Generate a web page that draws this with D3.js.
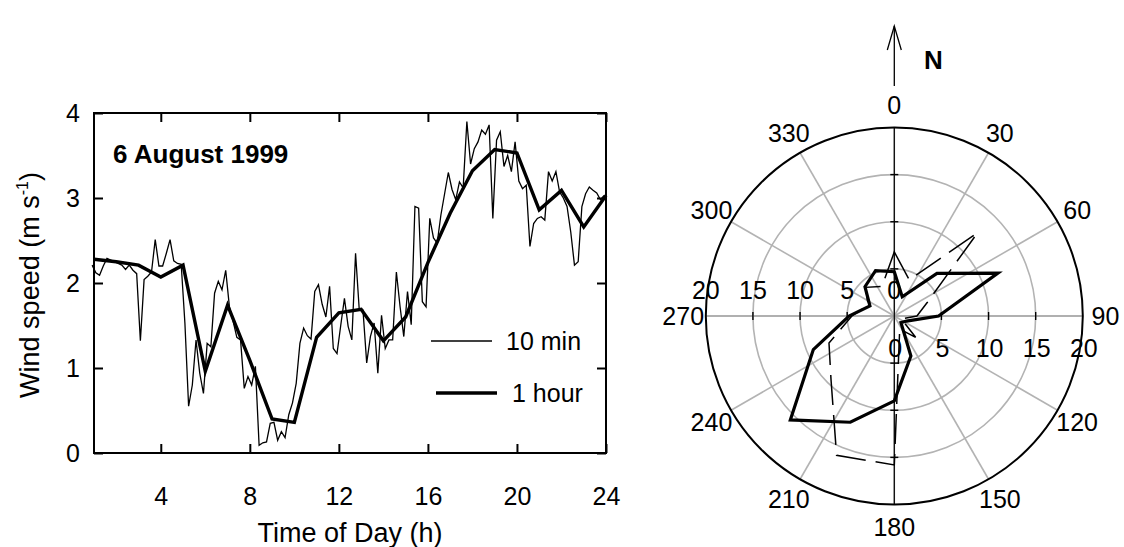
<!DOCTYPE html>
<html>
<head>
<meta charset="utf-8">
<script src="https://cdn.jsdelivr.net/npm/d3@7"></script>
<style>
  html, body { margin: 0; padding: 0; background: #fff; }
  svg { display: block; font-family: "Liberation Sans", Arial, sans-serif; }
</style>
</head>
<body>
<svg id="fig" width="1124" height="547"></svg>
<script>
// ---------- wind speed time series, 6 August 1999 ----------
// 10-minute means; the first averaging period is centred at 00:55
const tenMinStart = 55 / 60;
const tenMinStep = 10 / 60;
const tenMin = [
  2.21, 2.12, 2.09, 2.20, 2.29, 2.27,
  2.25, 2.23, 2.21, 2.16, 2.21, 2.15,
  2.11, 1.32, 2.04, 2.08, 2.13, 2.51,
  2.20, 2.20, 2.35, 2.51, 2.26, 2.23,
  2.22, 1.53, 0.55, 0.80, 1.33, 0.94,
  0.70, 1.29, 1.25, 1.88, 2.02, 1.92,
  2.15, 1.72, 1.55, 1.36, 1.33, 0.76,
  0.90, 0.80, 1.02, 0.09, 0.12, 0.13,
  0.35, 0.36, 0.15, 0.25, 0.18, 0.45,
  0.59, 0.82, 1.29, 1.47, 1.38, 1.34,
  1.90, 1.98, 1.75, 1.60, 1.96, 1.23,
  1.17, 1.50, 1.82, 1.49, 1.33, 2.35,
  1.68, 1.68, 1.06, 1.37, 1.53, 0.94,
  1.62, 1.23, 1.33, 1.33, 2.13, 1.72,
  1.37, 1.90, 1.51, 2.90, 2.88, 1.78,
  1.72, 2.76, 2.53, 2.47, 2.80, 3.05,
  3.30, 3.10, 2.98, 3.19, 3.12, 3.90,
  3.40, 3.58, 3.66, 3.80, 3.75, 3.86,
  2.76, 3.68, 3.78, 3.37, 3.50, 3.31,
  3.66, 3.20, 3.11, 3.15, 2.43, 2.70,
  2.76, 2.78, 2.74, 3.31, 3.20, 3.31,
  3.07, 3.00, 2.90, 2.60, 2.21, 2.25,
  2.90, 3.05, 3.13, 3.09, 3.06, 2.98,
  3.03
];
// hourly means, hours 1..24
const hours = d3.range(1, 25);
const hourly = [
  2.28, 2.25, 2.21, 2.07, 2.21, 0.96, 1.74, 1.09, 0.40, 0.36, 1.36, 1.65,
  1.69, 1.32, 1.60, 2.24, 2.82, 3.32, 3.57, 3.53, 2.86, 3.09, 2.66, 3.03
];
const xTicks = [4, 8, 12, 16, 20, 24];
const yTicks = [0, 1, 2, 3, 4];
const legendLabels = ["10 min", "1 hour"];

// ---------- wind rose (frequency % by direction) ----------
const directions = d3.range(0, 360, 22.5);
const roseHourly = [4.7, 2.2, 6.4, 11.9, 4.7, 1.4, 1.0, 4.6, 9.0, 12.2, 15.6, 9.3, 4.8, 2.8, 4.4, 5.2];
const roseTenMin = [6.8, 4.15, 12.5, 3.8, 2.4, 0.8, 3.2, 1.5, 15.8, 16.0, 9.5, 7.5, 4.5, 3.0, 4.3, 3.4];
const ringValues = [5, 10, 15, 20];
const spokeAngles = d3.range(0, 360, 30);

const svg = d3.select("#fig");
const FONT = 25;
const TITLE_FONT = 27;

// ================= left panel =================
const x = d3.scaleLinear().domain([1, 24]).range([94, 606]);
const y = d3.scaleLinear().domain([0, 4]).range([453, 113]);
const left = svg.append("g");

const styleAxis = g => {
  g.select(".domain").remove();
  g.selectAll(".tick line").attr("stroke", "#000").attr("stroke-width", 2);
  g.selectAll(".tick text").attr("font-size", FONT).attr("fill", "#000")
    .attr("font-family", "Liberation Sans, Arial, sans-serif");
};

left.append("g").attr("transform", `translate(0,${y(0)})`)
  .call(d3.axisBottom(x).tickValues(xTicks).tickSize(-9).tickPadding(34))
  .call(styleAxis);
left.append("g").attr("transform", `translate(0,${y(4)})`)
  .call(d3.axisTop(x).tickValues(xTicks).tickSize(-9).tickFormat(""))
  .call(styleAxis);
left.append("g").attr("transform", `translate(${x(1)},0)`)
  .call(d3.axisLeft(y).tickValues(yTicks).tickSize(-9).tickPadding(14).tickFormat(d3.format("d")))
  .call(styleAxis);
left.append("g").attr("transform", `translate(${x(24)},0)`)
  .call(d3.axisRight(y).tickValues(yTicks).tickSize(-9).tickFormat(""))
  .call(styleAxis);

left.append("rect")
  .attr("x", x(1)).attr("y", y(4))
  .attr("width", x(24) - x(1)).attr("height", y(0) - y(4))
  .attr("fill", "none").attr("stroke", "#000").attr("stroke-width", 2);

const line = d3.line().x(d => x(d[0])).y(d => y(d[1]));
const tenMinPts = tenMin.map((v, i) => [tenMinStart + i * tenMinStep, v]);
const hourlyPts = hourly.map((v, i) => [hours[i], v]);

left.append("path").datum(tenMinPts)
  .attr("d", line).attr("fill", "none").attr("stroke", "#000")
  .attr("stroke-width", 1.3).attr("stroke-linejoin", "miter");
left.append("path").datum(hourlyPts)
  .attr("d", line).attr("fill", "none").attr("stroke", "#000")
  .attr("stroke-width", 3.4).attr("stroke-linejoin", "miter");

left.append("text").attr("x", 113).attr("y", 163)
  .attr("font-size", 26).attr("font-weight", "bold").text("6 August 1999");

// legend
const leg = left.append("g");
leg.append("line").attr("x1", 431).attr("x2", 492).attr("y1", 341).attr("y2", 341)
  .attr("stroke", "#000").attr("stroke-width", 1.3);
leg.append("text").attr("x", 506).attr("y", 341).attr("dy", "0.35em")
  .attr("font-size", FONT).text(legendLabels[0]);
leg.append("line").attr("x1", 436).attr("x2", 497).attr("y1", 393).attr("y2", 393)
  .attr("stroke", "#000").attr("stroke-width", 3.4);
leg.append("text").attr("x", 512).attr("y", 393).attr("dy", "0.35em")
  .attr("font-size", FONT).text(legendLabels[1]);

// axis titles
left.append("text").attr("x", 350).attr("y", 542).attr("text-anchor", "middle")
  .attr("font-size", TITLE_FONT).text("Time of Day (h)");
const yt = left.append("text").attr("transform", "translate(39,285) rotate(-90)")
  .attr("text-anchor", "middle").attr("font-size", TITLE_FONT);
yt.append("tspan").text("Wind speed (m s");
yt.append("tspan").attr("font-size", 16).attr("dy", -11).text("-1");
yt.append("tspan").attr("dy", 11).text(")");

// ================= right panel: wind rose =================
const cx = 894.3, cy = 316, R = 188.5;
const r = d3.scaleLinear().domain([0, 20]).range([0, R]);
const rose = svg.append("g").attr("transform", `translate(${cx},${cy})`);
const rad = d => d * Math.PI / 180;
const px = (deg, v) => r(v) * Math.sin(rad(deg));
const py = (deg, v) => -r(v) * Math.cos(rad(deg));
const GRID = "#b3b3b3";

// rings
rose.selectAll("circle.ring").data(ringValues.slice(0, -1)).join("circle")
  .attr("class", "ring").attr("r", d => r(d))
  .attr("fill", "none").attr("stroke", GRID).attr("stroke-width", 1.6);
// spokes
rose.selectAll("line.spoke").data(spokeAngles).join("line")
  .attr("class", "spoke")
  .attr("x1", 0).attr("y1", 0)
  .attr("x2", d => px(d, 20)).attr("y2", d => py(d, 20))
  .attr("stroke", GRID).attr("stroke-width", 1.6);
// main axes
rose.append("line").attr("x1", px(270, 20)).attr("x2", px(90, 20)).attr("y1", 0).attr("y2", 0)
  .attr("stroke", "#999").attr("stroke-width", 1.2);
rose.append("line").attr("x1", 0).attr("x2", 0).attr("y1", py(0, 20)).attr("y2", py(180, 20))
  .attr("stroke", "#000").attr("stroke-width", 1.2);
// axis ticks
[0, 90, 180, 270].forEach(a => {
  ringValues.slice(0, -1).forEach(v => {
    const tx = px(a, v), ty = py(a, v);
    const vert = a === 0 || a === 180;
    rose.append("line")
      .attr("x1", vert ? tx - 4 : tx).attr("x2", vert ? tx + 4 : tx)
      .attr("y1", vert ? ty : ty - 4).attr("y2", vert ? ty : ty + 4)
      .attr("stroke", "#000").attr("stroke-width", 1.4);
  });
});
// outer circle
rose.append("circle").attr("r", r(20)).attr("fill", "none")
  .attr("stroke", "#000").attr("stroke-width", 2);

// direction labels
rose.selectAll("text.dir").data(spokeAngles).join("text")
  .attr("class", "dir")
  .attr("x", d => 1.12 * R * Math.sin(rad(d)))
  .attr("y", d => -1.12 * R * Math.cos(rad(d)))
  .attr("dy", "0.36em").attr("text-anchor", "middle")
  .attr("font-size", FONT).text(d => d);

// radial labels
const radialVals = [0].concat(ringValues);
rose.selectAll("text.rl").data(radialVals).join("text")
  .attr("class", "rl").attr("x", d => -r(d)).attr("y", -26).attr("dy", "0.36em")
  .attr("text-anchor", "middle").attr("font-size", FONT).text(d => d);
rose.selectAll("text.rr").data(radialVals).join("text")
  .attr("class", "rr").attr("x", d => r(d) + 1).attr("y", 32).attr("dy", "0.36em")
  .attr("text-anchor", "middle").attr("font-size", FONT).text(d => d);

// data polygons
const radial = d3.lineRadial()
  .angle(d => rad(d[0])).radius(d => r(d[1]))
  .curve(d3.curveLinearClosed);
rose.append("path").datum(directions.map((d, i) => [d, roseTenMin[i]]))
  .attr("d", radial).attr("fill", "none").attr("stroke", "#000")
  .attr("stroke-width", 1.5).attr("stroke-dasharray", "30,10");
rose.append("path").datum(directions.map((d, i) => [d, roseHourly[i]]))
  .attr("d", radial).attr("fill", "none").attr("stroke", "#000")
  .attr("stroke-width", 3.2).attr("stroke-linejoin", "miter");

// north arrow
const na = svg.append("g").attr("stroke", "#000").attr("stroke-width", 1.3).attr("fill", "none");
na.append("line").attr("x1", cx).attr("x2", cx).attr("y1", 86).attr("y2", 26);
na.append("polyline").attr("points", `${cx - 7},50 ${cx},26 ${cx + 7},50`);
svg.append("text").attr("x", 924).attr("y", 69).attr("font-size", 26)
  .attr("font-weight", "bold").text("N");
</script>
</body>
</html>
